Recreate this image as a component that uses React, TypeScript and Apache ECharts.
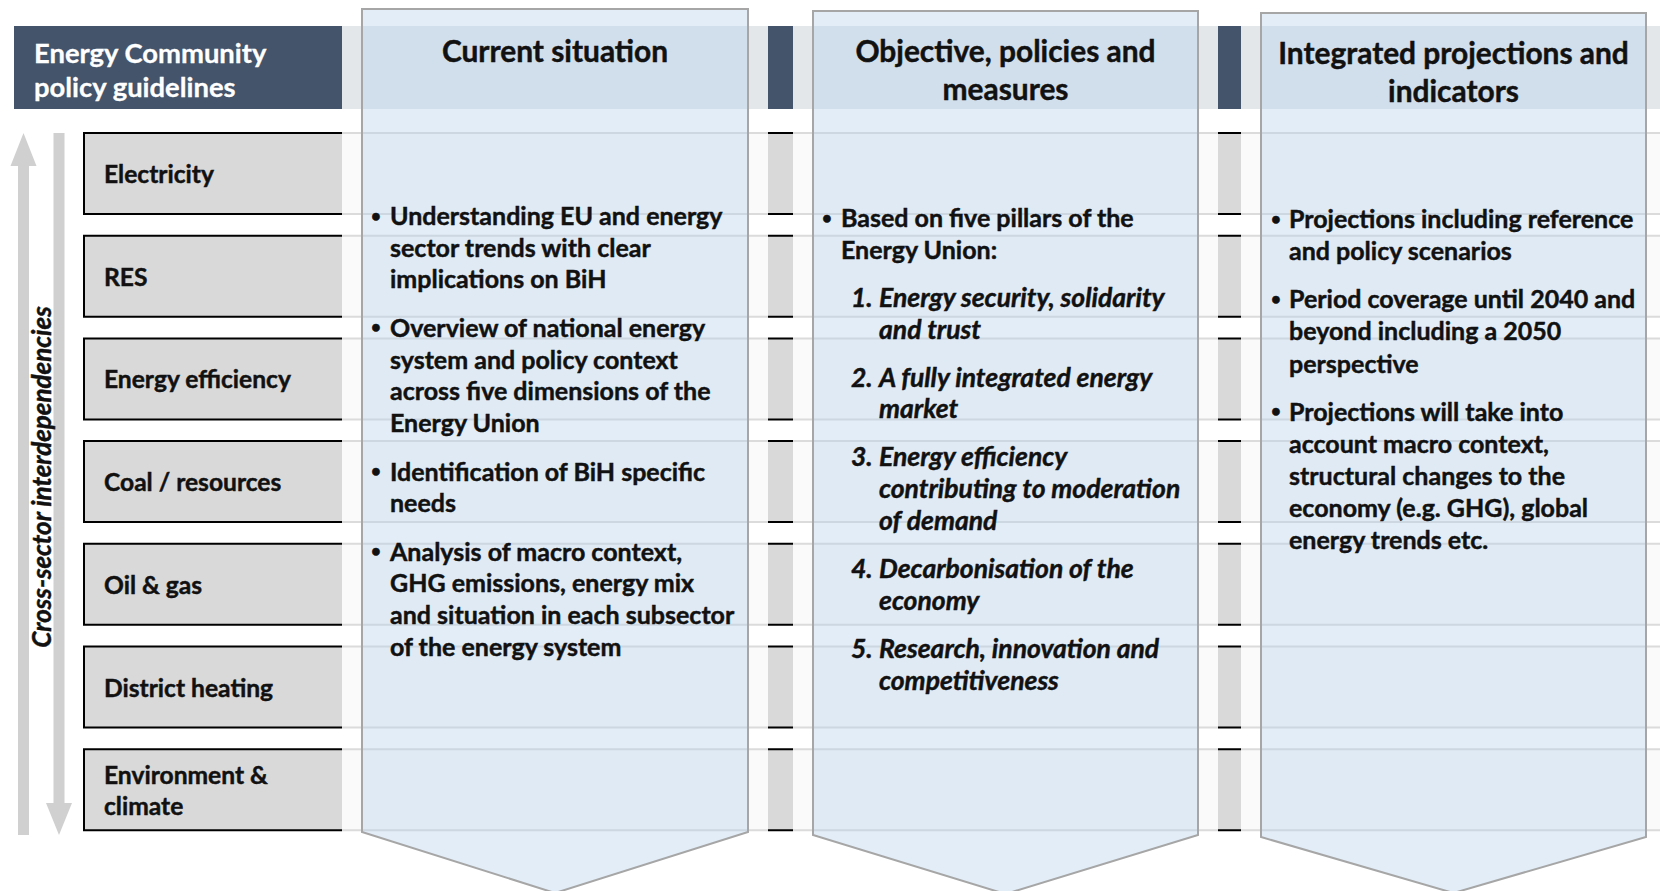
import React, { useEffect, useRef } from "react";
import * as echarts from "echarts";

const headerLines = ["Energy Community", "policy guidelines"];
const sectorLabels: string[][] = [
  ["Electricity"],
  ["RES"],
  ["Energy efficiency"],
  ["Coal / resources"],
  ["Oil & gas"],
  ["District heating"],
  ["Environment &", "climate"],
];
const sideLabel = "Cross-sector interdependencies";
const panelTitles: string[][] = [
  ["Current situation"],
  ["Objective, policies and", "measures"],
  ["Integrated projections and", "indicators"],
];
const currentBullets: string[][] = [
  ["Understanding EU and energy", "sector trends with clear", "implications on BiH"],
  ["Overview of national energy", "system and policy context", "across five dimensions of the", "Energy Union"],
  ["Identification of BiH specific", "needs"],
  ["Analysis of macro context,", "GHG emissions, energy mix", "and situation in each subsector", "of the energy system"],
];
const objectiveIntro: string[] = ["Based on five pillars of the", "Energy Union:"];
const pillarNumbers: string[] = ["1.", "2.", "3.", "4.", "5."];
const pillars: string[][] = [
  ["Energy security, solidarity", "and trust"],
  ["A fully integrated energy", "market"],
  ["Energy efficiency", "contributing to moderation", "of demand"],
  ["Decarbonisation of the", "economy"],
  ["Research, innovation and", "competitiveness"],
];
const projectionBullets: string[][] = [
  ["Projections including reference", "and policy scenarios"],
  ["Period coverage until 2040 and", "beyond including a 2050", "perspective"],
  ["Projections will take into", "account macro context,", "structural changes to the", "economy (e.g. GHG), global", "energy trends etc."],
];

const FONT = "Lato, 'Open Sans', sans-serif";

function txt(text: string, x: number, y: number, size: number, opts: any = {}) {
  const align = opts.align || "left";
  const weight = opts.weight || "bold";
  const italic = opts.italic ? "italic " : "";
  const fill = opts.fill || "#111111";
  return {
    type: "text",
    x,
    y,
    rotation: opts.rotation || 0,
    style: {
      text,
      fill,
      stroke: fill,
      lineWidth: opts.stroke === undefined ? 0.45 : opts.stroke,
      font: `${italic}${weight} ${size}px ${FONT}`,
      align,
      verticalAlign: "middle",
      textAlign: align,
      textVerticalAlign: "middle",
    },
  };
}

export default function App() {
  const ref = useRef<HTMLDivElement>(null);
  useEffect(() => {
    document.body.style.margin = "0";
    const chart = echarts.init(ref.current as HTMLDivElement, null, { renderer: "svg", width: 1660, height: 891 });
    const W = 1660;
    const els: any[] = [];

    // white background
    els.push({ type: "rect", shape: { x: 0, y: 0, width: W, height: 891 }, style: { fill: "#ffffff" } });

    // dark header band
    els.push({ type: "rect", shape: { x: 14, y: 26, width: W - 14, height: 83 }, style: { fill: "#44546a" } });
    headerLines.forEach((l, i) => els.push(txt(l, 34, 52 + i * 34, 27.4, { fill: "#ffffff", stroke: 0.3 })));

    // sector rows
    const rowTop = 133;
    const rowPitch = 102.7;
    const rowH = 81;
    sectorLabels.forEach((lines, i) => {
      const y = rowTop + i * rowPitch;
      els.push({
        type: "rect",
        shape: { x: 84, y, width: W, height: rowH },
        style: { fill: "#d9d9d9", stroke: "#000000", lineWidth: 2 },
      });
      const cy = y + rowH / 2;
      const lh = 31;
      lines.forEach((l, j) => {
        els.push(txt(l, 104, cy - ((lines.length - 1) * lh) / 2 + j * lh, 24.6));
      });
    });

    // arrows
    const arrowCol = "#d0d0d0";
    els.push({
      type: "polygon",
      shape: { points: [[23.5, 133], [36.5, 166], [29, 166], [29, 835], [18, 835], [18, 166], [10.5, 166]] },
      style: { fill: arrowCol },
    });
    els.push({
      type: "polygon",
      shape: { points: [[53.5, 133], [64.5, 133], [64.5, 803], [72, 803], [59, 835], [46, 803], [53.5, 803]] },
      style: { fill: arrowCol },
    });
    els.push(txt(sideLabel, 41, 477, 26, { align: "center", italic: true, rotation: Math.PI / 2 }));

    // panels
    const panels = [
      { x0: 362, x1: 748, top: 9, corner: 832, tip: 893, titleY: 50 },
      { x0: 813, x1: 1198, top: 11, corner: 835, tip: 894, titleY: 50 },
      { x0: 1261, x1: 1646, top: 13, corner: 837, tip: 893, titleY: 52 },
    ];
    panels.forEach((p) => {
      els.push({
        type: "rect",
        shape: { x: p.x0 - 20, y: 0, width: p.x1 - p.x0 + 40, height: 891 },
        style: { fill: "rgba(255,255,255,0.86)" },
      });
    });
    panels.forEach((p, i) => {
      const mid = (p.x0 + p.x1) / 2;
      els.push({
        type: "polygon",
        shape: { points: [[p.x0, p.top], [p.x1, p.top], [p.x1, p.corner], [mid, p.tip], [p.x0, p.corner]] },
        style: { fill: "rgba(180,208,236,0.38)", stroke: "#a6a6a6", lineWidth: 2 },
      });
      panelTitles[i].forEach((l, j) => els.push(txt(l, mid, p.titleY + j * 38, 29.9, { align: "center" })));
    });

    const SZ = 25;
    const ISZ = 26.5;
    const DOT = 17;
    // panel 1 bullets
    {
      let y = 215;
      const lh = 31.7;
      const gap = 48.5;
      currentBullets.forEach((b) => {
        els.push(txt("•", 376, y, DOT, { align: "center" }));
        b.forEach((l, j) => {
          els.push(txt(l, 390, y, SZ));
          if (j < b.length - 1) y += lh;
        });
        y += gap;
      });
    }
    // panel 2
    {
      let y = 217;
      const lh = 31.8;
      const gap = 48;
      els.push(txt("•", 827, y, DOT, { align: "center" }));
      objectiveIntro.forEach((l, j) => {
        els.push(txt(l, 841, y, SZ));
        if (j < objectiveIntro.length - 1) y += lh;
      });
      y += gap;
      pillars.forEach((b, i) => {
        els.push(txt(pillarNumbers[i], 851, y, ISZ, { italic: true }));
        b.forEach((l, j) => {
          els.push(txt(l, 879, y, ISZ, { italic: true }));
          if (j < b.length - 1) y += lh;
        });
        y += gap;
      });
    }
    // panel 3
    {
      let y = 218;
      const lh = 32.2;
      const gap = 48;
      projectionBullets.forEach((b) => {
        els.push(txt("•", 1276, y, DOT, { align: "center" }));
        b.forEach((l, j) => {
          els.push(txt(l, 1289, y, SZ));
          if (j < b.length - 1) y += lh;
        });
        y += gap;
      });
    }

    chart.setOption({ animation: false, graphic: { elements: els } });
    return () => chart.dispose();
  }, []);
  return <div ref={ref} style={{ position: "absolute", left: 0, top: 0, width: 1660, height: 891 }} />;
}
